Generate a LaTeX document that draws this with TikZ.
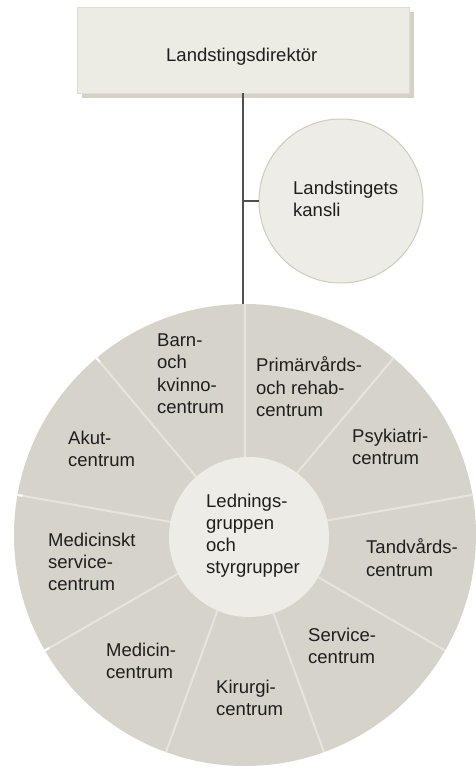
\documentclass[tikz,border=0pt]{standalone}
\usepackage{fontspec}
\setmainfont{Liberation Sans}
\definecolor{boxfill}{HTML}{EDECE4}
\definecolor{boxline}{HTML}{E0DED4}
\definecolor{shadowc}{HTML}{D5D2C5}
\definecolor{wheelfill}{HTML}{D6D4CA}
\definecolor{divider}{HTML}{E6E4DC}
\definecolor{hubfill}{HTML}{EDECE6}
\definecolor{kborder}{HTML}{CFCCBC}
\definecolor{linec}{HTML}{505050}
\definecolor{txt}{HTML}{1E1E1E}
\begin{document}
\begin{tikzpicture}[x=1pt,y=-1pt,
  lbl/.style={font=\fontsize{18.5}{22.2}\selectfont, text=txt, align=left, inner sep=0pt, anchor=north west},
  conn/.style={draw=linec, line width=1.5pt}]
\useasboundingbox[fill=white] (0,0) rectangle (476,769);
% top box with shadow
\fill[shadowc] (82,12) rectangle (414,98);
\node (box) [rectangle, fill=boxfill, draw=boxline, line width=0.6pt, minimum width=332pt, minimum height=86pt, inner sep=0pt] at (243,50) {};
% kansli circle
\node (kansli) [circle, fill=hubfill, draw=kborder, line width=1pt, minimum size=164pt, inner sep=0pt] at (341,201) {};
% wheel
\node (wheel) [circle, fill=wheelfill, minimum size=462pt, inner sep=0pt] at (245,535) {};
\foreach \k in {0,...,8}
  \draw[divider, line width=2pt] (wheel.center) -- ++({90-40*\k}:231pt);
\foreach \a in {130,170,210}
  \draw[white, line width=2pt] (wheel.center) ++(\a:226pt) -- ++(\a:8pt);
\node (hub) [circle, fill=hubfill, minimum size=160pt, inner sep=0pt] at (249,537) {};
% connectors
\draw[conn] (box.south) -- (box.south |- wheel.north);
\draw[conn] (kansli.west) -- (kansli.west -| box.south);
% texts
\node[lbl] (tdir) at (166,47.7) {Landstingsdirektör};
\node[lbl] (tkansli) at (293,180.7) {Landstingets\\kansli};
\node[lbl] (tbarn) at (157,333.7) {Barn-\\och\\kvinno-\\centrum};
\node[lbl] (tprim) at (256,356.7) {Primärvårds-\\och rehab-\\centrum};
\node[lbl] (tpsyk) at (352,428.7) {Psykiatri-\\centrum};
\node[lbl] (takut) at (68,430.7) {Akut-\\centrum};
\node[lbl] (tled) at (206,493.7) {Lednings-\\gruppen\\och\\styrgrupper};
\node[lbl] (tmedserv) at (48,532.7) {Medicinskt\\service-\\centrum};
\node[lbl] (ttand) at (366,538.7) {Tandvårds-\\centrum};
\node[lbl] (tserv) at (308,627.7) {Service-\\centrum};
\node[lbl] (tmedicin) at (106,642.7) {Medicin-\\centrum};
\node[lbl] (tkir) at (216,679.7) {Kirurgi-\\centrum};
\end{tikzpicture}
\end{document}
